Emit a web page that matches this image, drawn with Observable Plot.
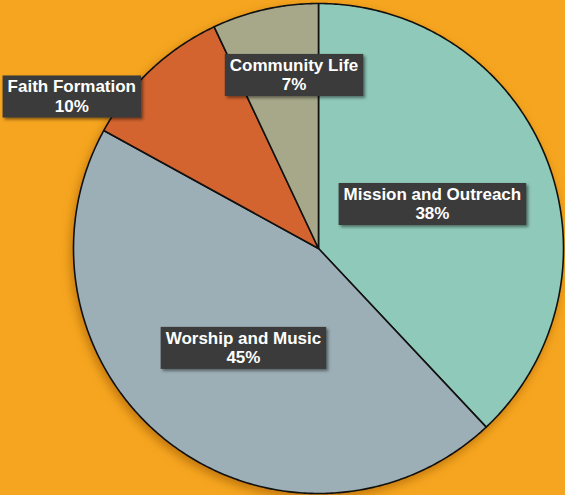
<!DOCTYPE html>
<html><head><meta charset="utf-8">
<script src="https://cdn.jsdelivr.net/npm/d3@7"></script>
<script src="https://cdn.jsdelivr.net/npm/@observablehq/plot@0.6"></script>
<style>
html,body{margin:0;padding:0;background:#F5A51F;overflow:hidden}
svg{display:block}
</style>
</head><body>
<script>
// ---- data ----
const categories = ["Mission and Outreach", "Worship and Music", "Faith Formation", "Community Life"];
const shares = [38, 45, 10, 7];
const sliceColors = ["#8FC9B9", "#9DAFB6", "#D3642F", "#A7A88A"];

// ---- style / layout (not data) ----
const W = 565, H = 495, cx = 318, cy = 248, R = 245;
const labelPlace = {
  "Mission and Outreach": {r: 0.5, dx: 0, dy: 0},
  "Worship and Music": {r: 0.5, dx: 0, dy: 2},
  "Faith Formation": {r: 1.0, dx: -79, dy: 26},
  "Community Life": {r: 0.72, dx: 14, dy: -2}
};

const rows = categories.map((c, i) => ({label: c, share: shares[i]}));
const arcs = d3.pie().sort(null).value(d => d.share)(rows);

// outline points of every slice, derived from the pie angles
const pts = [];
for (const a of arcs) {
  const n = Math.max(2, Math.ceil((a.endAngle - a.startAngle) / 0.01));
  pts.push({label: a.data.label, x: 0, y: 0});
  for (let k = 0; k <= n; k++) {
    const t = a.startAngle + (a.endAngle - a.startAngle) * k / n;
    pts.push({label: a.data.label, x: Math.sin(t), y: Math.cos(t)});
  }
  pts.push({label: a.data.label, x: 0, y: 0});
}

const labels = arcs.map(a => {
  const m = (a.startAngle + a.endAngle) / 2;
  const p = labelPlace[a.data.label];
  return {label: a.data.label, text: `${a.data.label}\n${a.data.share}%`,
          x: p.r * Math.sin(m), y: p.r * Math.cos(m), dx: p.dx, dy: p.dy};
});

const svg = Plot.plot({
  width: W, height: H, margin: 0,
  x: {domain: [-cx / R, (W - cx) / R], axis: null},
  y: {domain: [-(H - cy) / R, cy / R], axis: null},
  color: {domain: categories, range: sliceColors},
  style: {background: "#F5A51F", fontFamily: "'Liberation Sans', Arial, sans-serif"},
  marks: [
    Plot.line(pts, {x: "x", y: "y", z: "label", fill: "label", stroke: "#111", strokeWidth: 1.6, strokeLinejoin: "round"}),
    ...labels.map(l => Plot.text([l], {x: "x", y: "y", text: "text", dx: l.dx, dy: l.dy,
      fill: "white", fontSize: 17, fontWeight: "bold", lineHeight: 1.12}))
  ]
});
document.body.append(svg);

// pie drop shadow
svg.querySelectorAll('g[aria-label="line"]').forEach(g => {
  g.style.filter = "drop-shadow(-2px 4px 5px rgba(150,80,0,0.55))";
});
// dark label boxes behind text
svg.querySelectorAll('g[aria-label="text"] text').forEach(t => {
  const b = t.getBBox();
  const r = document.createElementNS("http://www.w3.org/2000/svg", "rect");
  r.setAttribute("x", b.x - 5);
  r.setAttribute("y", b.y - 2);
  r.setAttribute("width", b.width + 10);
  r.setAttribute("height", b.height + 4);
  r.setAttribute("fill", "#3B3B3B");
  r.setAttribute("stroke", "none");
  r.style.filter = "drop-shadow(2px 2px 1.5px rgba(0,0,0,0.45))";
  if (t.getAttribute("transform")) r.setAttribute("transform", t.getAttribute("transform"));
  t.parentNode.insertBefore(r, t);
});
</script>
</body></html>
